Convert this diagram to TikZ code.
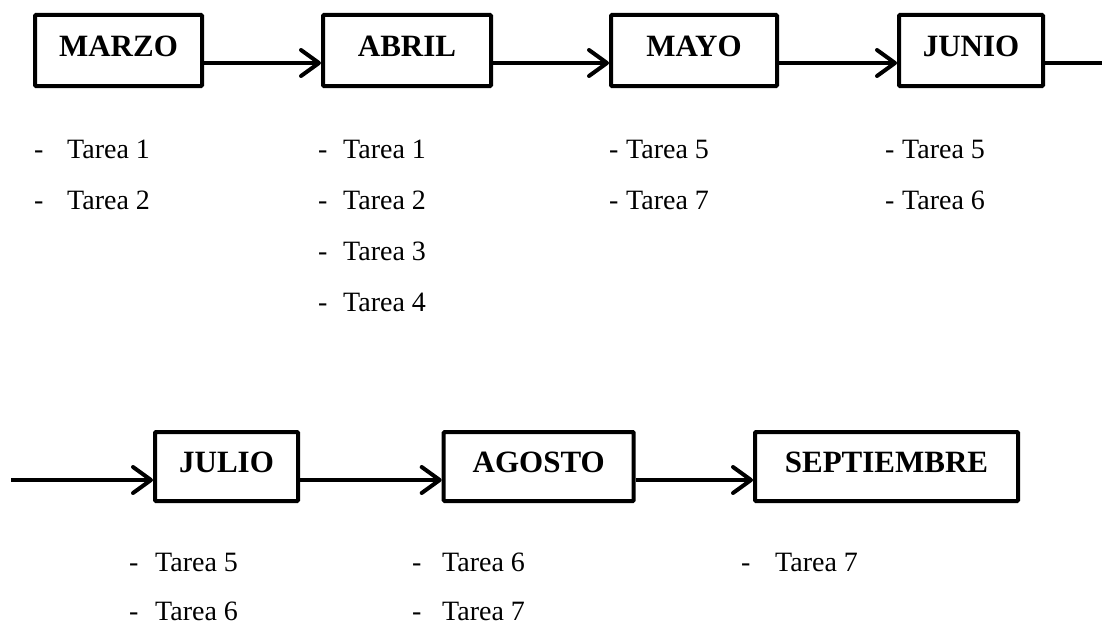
\documentclass[tikz,border=0pt]{standalone}
\usepackage{fontspec}
\setmainfont{Liberation Serif}
\usetikzlibrary{arrows.meta}

\newcommand{\guion}[1]{\makebox[#1][l]{-}}

\tikzset{
  mes/.style={draw, line width=4pt, rounded corners=1pt, inner sep=0pt,
    minimum height=71pt, text height=20.5pt, text depth=8pt,
    font=\fontsize{31}{37}\selectfont\bfseries},
  tarea/.style={anchor=base west, inner sep=0pt,
    font=\fontsize{28}{34}\selectfont},
  flecha/.style={line width=4pt,
    -{Straight Barb[length=18pt,width=26pt,line cap=round,line join=round]}}
}

\begin{document}
\begin{tikzpicture}[x=1pt,y=-1pt]
\useasboundingbox (0,0) rectangle (1102,626);

% primera fila
\node [mes, minimum width=167pt] (marzo) at (118.5,50.5) {MARZO};
\node [mes, minimum width=168pt] (abril) at (407,50.5) {ABRIL};
\node [mes, minimum width=166pt] (mayo) at (694,50.5) {MAYO};
\node [mes, minimum width=144pt] (junio) at (971,50.5) {JUNIO};
\coordinate (finA) at (1102,63);

\draw [flecha] ([yshift=-12.5pt]marzo.east) -- ([yshift=-12.5pt]abril.west);
\draw [flecha] ([yshift=-12.5pt]abril.east) -- ([yshift=-12.5pt]mayo.west);
\draw [flecha] ([yshift=-12.5pt]mayo.east) -- ([yshift=-12.5pt]junio.west);
\draw [line width=4pt] ([yshift=-12.5pt]junio.east) -- (finA);

\node [tarea] (m1) at (34,158) {\guion{33pt}Tarea 1};
\node [tarea] (m2) at (34,209) {\guion{33pt}Tarea 2};

\node [tarea] (a1) at (318,158) {\guion{25pt}Tarea 1};
\node [tarea] (a2) at (318,209) {\guion{25pt}Tarea 2};
\node [tarea] (a3) at (318,260) {\guion{25pt}Tarea 3};
\node [tarea] (a4) at (318,311) {\guion{25pt}Tarea 4};

\node [tarea] (my1) at (609,158) {\guion{17pt}Tarea 5};
\node [tarea] (my2) at (609,209) {\guion{17pt}Tarea 7};

\node [tarea] (j1) at (885,158) {\guion{17pt}Tarea 5};
\node [tarea] (j2) at (885,209) {\guion{17pt}Tarea 6};

% segunda fila
\coordinate (iniB) at (11,480);
\node [mes, minimum width=143pt, minimum height=69pt] (julio) at (226.5,466.5) {JULIO};
\node [mes, minimum width=190pt, minimum height=69pt] (agosto) at (538.7,466.5) {AGOSTO};
\node [mes, minimum width=263pt, minimum height=69pt] (septiembre) at (886.5,466.5) {SEPTIEMBRE};

\draw [flecha] (iniB) -- ([yshift=-13.5pt]julio.west);
\draw [flecha] ([yshift=-13.5pt]julio.east) -- ([yshift=-13.5pt]agosto.west);
\draw [flecha] ([yshift=-13.5pt]agosto.east) -- ([yshift=-13.5pt]septiembre.west);

\node [tarea] (jl1) at (129,571) {\guion{26pt}Tarea 5};
\node [tarea] (jl2) at (129,620) {\guion{26pt}Tarea 6};

\node [tarea] (ag1) at (412,571) {\guion{30pt}Tarea 6};
\node [tarea] (ag2) at (412,620) {\guion{30pt}Tarea 7};

\node [tarea] (s1) at (741,571) {\guion{34pt}Tarea 7};

\end{tikzpicture}
\end{document}
